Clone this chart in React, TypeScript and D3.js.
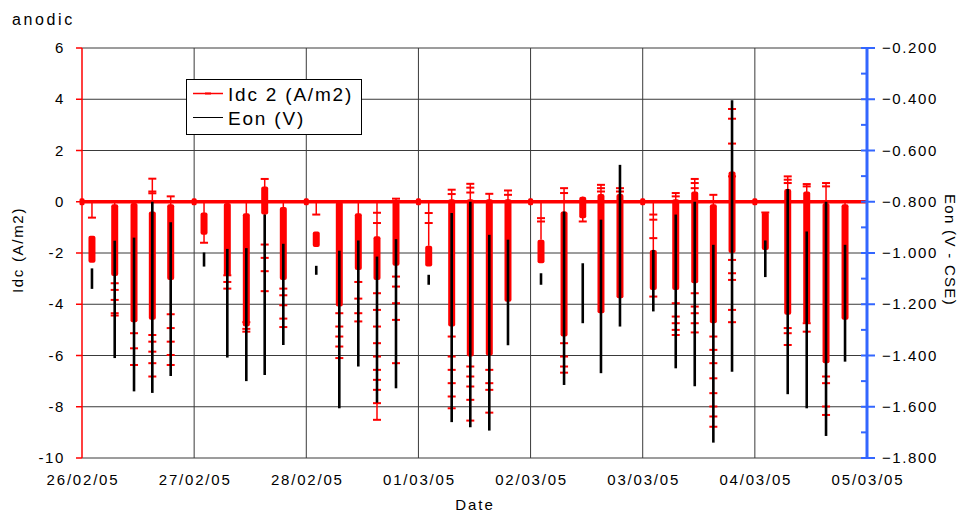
import React from "react";
import * as d3 from "d3";

const parseTime = d3.timeParse("%Y-%m-%d %H:%M");

// Day gridlines and their labels
const dayTicks = [
  "2005-02-26 00:00", "2005-02-27 00:00", "2005-02-28 00:00", "2005-03-01 00:00",
  "2005-03-02 00:00", "2005-03-03 00:00", "2005-03-04 00:00", "2005-03-05 00:00",
];
const dayLabels = ["26/02/05", "27/02/05", "28/02/05", "01/03/05", "02/03/05", "03/03/05", "04/03/05", "05/03/05"];

// Left axis (Idc, A/m2) and right axis (Eon, V - CSE)
const idcTicks = [6, 4, 2, 0, -2, -4, -6, -8, -10];
const eonTicks = [-0.2, -0.4, -0.6, -0.8, -1.0, -1.2, -1.4, -1.6, -1.8];
const eonMinorTicks = [-0.3, -0.5, -0.7, -0.9, -1.1, -1.3, -1.5, -1.7];

// Times when the current rests at zero between measurement runs
const restTimes = [
  "2005-02-26 00:00", "2005-02-27 00:00", "2005-02-28 00:00", "2005-03-01 00:00",
  "2005-03-02 00:00", "2005-03-03 00:00", "2005-03-04 00:00",
];

// Measurement runs: start time of each run
const runTimes = [
  "2005-02-26 02:08", "2005-02-26 07:00", "2005-02-26 11:08", "2005-02-26 15:03", "2005-02-26 18:59",
  "2005-02-27 02:07", "2005-02-27 07:06", "2005-02-27 11:10", "2005-02-27 15:06", "2005-02-27 19:05",
  "2005-02-28 02:08", "2005-02-28 07:04", "2005-02-28 11:08", "2005-02-28 15:08", "2005-02-28 19:12",
  "2005-03-01 02:12", "2005-03-01 07:07", "2005-03-01 11:06", "2005-03-01 15:10", "2005-03-01 19:10",
  "2005-03-02 02:14", "2005-03-02 07:10", "2005-03-02 11:10", "2005-03-02 15:04", "2005-03-02 19:08",
  "2005-03-03 02:16", "2005-03-03 07:04", "2005-03-03 11:08", "2005-03-03 15:07", "2005-03-03 19:07",
  "2005-03-04 02:14", "2005-03-04 07:02", "2005-03-04 11:06", "2005-03-04 15:14", "2005-03-04 19:18",
];

// Idc 2 (A/m2): full span of each run [max, min]
const idcSpan: [number, number][] = [
  [0, -0.62], [0, -4.44], [0, -6.37], [0.9, -6.82], [0.21, -6.37],
  [0, -1.6], [0, -3.39], [0, -5.07], [0.89, -3.49], [0, -4.89],
  [0, -0.5], [0, -6.1], [0, -4.67], [0, -8.51], [0.12, -6.3],
  [0, -1.72], [0.47, -8.06], [0.7, -8.54], [0.31, -8.23], [0.44, -3.9],
  [0, -1.48], [0.53, -6.67], [0.2, -0.77], [0.66, -4.35], [0.53, -3.77],
  [0, -3.7], [0.34, -5.2], [0.89, -5.1], [0.27, -8.78], [3.62, -4.7],
  [-0.42, -1.88], [0.99, -5.59], [0.69, -5.07], [0.73, -8.32], [0, -4.6],
];

// Idc 2 (A/m2): range where the readings crowd together [upper, lower]
const idcDense: [number, number][] = [
  [-1.33, -2.38], [-0.1, -2.9], [-0.05, -4.7], [-0.38, -4.6], [-0.1, -3.05],
  [-0.42, -1.29], [-0.05, -2.9], [-0.45, -4.87], [0.6, -0.5], [-0.2, -3.05],
  [-1.16, -1.77], [0, -4.09], [-0.45, -2.66], [-1.35, -3.05], [0, -2.5],
  [-1.72, -2.53], [0.1, -4.87], [0.1, -6.04], [0.1, -6.0], [0.1, -3.9],
  [-1.48, -2.4], [-0.38, -5.26], [0.2, -0.64], [0.3, -4.35], [0.3, -3.77],
  [-1.88, -3.44], [0.1, -3.44], [0.4, -3.18], [-0.1, -4.74], [1.18, -2.0],
  [-0.42, -1.88], [0.5, -4.41], [0.4, -4.74], [-0.05, -6.3], [-0.1, -4.6],
];

// Idc 2 (A/m2): isolated readings outside the crowded range
const idcSingles: number[][] = [
  [-0.62], [-3.18, -3.44, -3.83, -4.35, -4.44], [-5.13, -5.72, -6.37],
  [0.9, 0.4, 0.33, -5.2, -5.46, -5.85, -6.3, -6.82], [0.21, -4.39, -4.93, -5.46, -5.98, -6.37],
  [-1.6], [-2.87, -3.13, -3.39], [-4.7, -4.96, -5.07], [0.89, -1.67, -2.19, -2.71, -3.49],
  [-3.39, -3.65, -4.04, -4.56, -4.89],
  [-0.5], [-4.35, -4.87, -5.26, -5.65, -6.1], [-3.13, -3.78, -4.35, -4.67],
  [-0.43, -0.83, -3.57, -4.22, -4.87, -5.52, -6.04, -6.56, -6.95, -7.34, -7.86, -8.51],
  [0.12, -2.92, -3.31, -3.96, -4.61, -6.3],
  [-0.44, -0.83], [0.47, 0.3, -5.26, -6.04, -6.56, -7.08, -7.6, -8.06],
  [0.7, 0.55, 0.36, -6.43, -6.82, -7.21, -7.73, -8.54], [0.31, -6.56, -7.08, -7.34, -8.23], [0.44, 0.27],
  [-0.64, -0.77], [0.53, 0.34, -5.52, -6.04, -6.43, -6.67], [-0.77], [0.66, 0.53, 0.4], [0.53, 0.4],
  [-0.5, -0.7, -1.42, -3.7], [0.34, 0.21, -3.96, -4.48, -4.74, -5.0, -5.2],
  [0.89, 0.73, 0.53, -3.57, -4.09, -4.35, -4.74, -5.1],
  [0.27, -5.26, -5.78, -6.3, -6.89, -7.47, -7.99, -8.38, -8.78],
  [3.62, 3.24, 2.27, 0.99, -2.27, -2.79, -3.05, -4.22, -4.7],
  [-0.42], [0.99, 0.86, 0.73, -4.93, -5.13, -5.59], [0.69, 0.6, -4.74, -5.07],
  [0.73, 0.6, -6.82, -7.08, -7.99, -8.32], [],
];

// Eon (V - CSE): span of each run [max, min]
const eonSpan: [number, number][] = [
  [-1.06, -1.14], [-0.952, -1.41], [-0.94, -1.54], [-0.8, -1.546], [-0.88, -1.48],
  [-0.998, -1.053], [-0.984, -1.408], [-0.981, -1.5], [-0.85, -1.476], [-0.964, -1.359],
  [-1.05, -1.085], [-0.991, -1.606], [-0.951, -1.443], [-1.014, -1.584], [-0.946, -1.528],
  [-1.085, -1.124], [-0.844, -1.66], [-0.8, -1.68], [-0.929, -1.693], [-0.948, -1.36],
  [-1.079, -1.124], [-0.838, -1.515], [-1.04, -1.274], [-0.87, -1.469], [-0.656, -1.287],
  [-0.988, -1.228], [-0.85, -1.45], [-0.8, -1.52], [-0.968, -1.74], [-0.404, -1.463],
  [-0.951, -1.094], [-0.75, -1.551], [-0.916, -1.606], [-0.8, -1.714], [-0.968, -1.424],
];

const RED = "#ff0000";
const BLUE = "#3366ff";
const FONT = "'Liberation Sans', Arial, Helvetica, sans-serif";

export default function App() {
  const left = 82;
  const right = 867;
  const top = 48;
  const bottom = 458;

  const x = d3
    .scaleTime()
    .domain([parseTime(dayTicks[0]) as Date, parseTime(dayTicks[dayTicks.length - 1]) as Date])
    .range([left, right]);
  const y = d3.scaleLinear().domain([-10, 6]).range([bottom, top]);
  const yE = d3.scaleLinear().domain([-1.8, -0.2]).range([bottom, top]);

  const markW = 8;
  const bandW = 7;
  const runs = runTimes.map((t, i) => ({
    cx: x(parseTime(t) as Date),
    span: idcSpan[i],
    dense: idcDense[i],
    singles: idcSingles[i],
    eon: eonSpan[i],
  }));

  return (
    <svg
      width={966}
      height={513}
      style={{ position: "absolute", left: 0, top: 0, background: "#fff" }}
      fontFamily={FONT}
    >
      <rect x={0} y={0} width={966} height={513} fill="#fff" />

      {/* gridlines */}
      {idcTicks.map((v) => (
        <line key={"h" + v} x1={left} x2={right} y1={y(v)} y2={y(v)} stroke="#3a3a3a" strokeWidth={1} />
      ))}
      {dayTicks.slice(1, -1).map((d) => {
        const px = x(parseTime(d) as Date);
        return <line key={"v" + d} x1={px} x2={px} y1={top} y2={bottom} stroke="#3a3a3a" strokeWidth={1} />;
      })}

      {/* Idc 2 at rest: zero line */}
      <line x1={left} x2={right} y1={y(0)} y2={y(0)} stroke={RED} strokeWidth={3.5} />
      {restTimes.map((t) => {
        const px = x(parseTime(t) as Date);
        return <rect key={"r" + t} x={px - 2.5} y={y(0) - 3.5} width={5} height={7} rx={1.5} fill={RED} />;
      })}

      {/* Idc 2 runs */}
      {runs.map((r, i) => (
        <g key={"idc" + i}>
          <line x1={r.cx} x2={r.cx} y1={y(r.span[0])} y2={y(r.span[1])} stroke={RED} strokeWidth={1.5} />
          <rect
            x={r.cx - bandW / 2}
            y={y(r.dense[0])}
            width={bandW}
            height={y(r.dense[1]) - y(r.dense[0])}
            rx={2}
            fill={RED}
          />
          {r.singles.map((v, j) => (
            <rect key={j} x={r.cx - markW / 2} y={y(v) - 1} width={markW} height={2} fill={RED} />
          ))}
        </g>
      ))}

      {/* Eon runs */}
      {runs.map((r, i) => (
        <line
          key={"eon" + i}
          x1={r.cx}
          x2={r.cx}
          y1={yE(r.eon[0])}
          y2={yE(r.eon[1])}
          stroke="#000"
          strokeWidth={2.6}
        />
      ))}

      {/* left axis */}
      <line x1={left} x2={left} y1={top} y2={bottom} stroke={RED} strokeWidth={1.5} />
      {idcTicks.map((v) => (
        <g key={"lt" + v}>
          <line x1={left - 6} x2={left} y1={y(v)} y2={y(v)} stroke={RED} strokeWidth={1.5} />
          <text x={65} y={y(v) + 5} textAnchor="end" fontSize={15} letterSpacing={1.6} fill="#000">
            {v}
          </text>
        </g>
      ))}

      {/* right axis */}
      {eonMinorTicks.map((v) => (
        <line key={"rm" + v} x1={right - 6} x2={right} y1={yE(v)} y2={yE(v)} stroke={BLUE} strokeWidth={2} />
      ))}
      {eonTicks.map((v) => (
        <g key={"rt" + v}>
          <line x1={right - 6} x2={right + 8} y1={yE(v)} y2={yE(v)} stroke={BLUE} strokeWidth={2} />
          <text x={882} y={yE(v) + 5} fontSize={15} letterSpacing={1.6} fill="#000">
            {d3.format(".3f")(v)}
          </text>
        </g>
      ))}
      <line x1={right} x2={right} y1={top} y2={bottom} stroke={BLUE} strokeWidth={3} />

      {/* x axis labels */}
      {dayTicks.map((d, i) => (
        <text
          key={"xl" + d}
          x={x(parseTime(d) as Date) + 1}
          y={485}
          textAnchor="middle"
          fontSize={15}
          letterSpacing={1.8}
          fill="#000"
        >
          {dayLabels[i]}
        </text>
      ))}

      {/* titles */}
      <text x={12} y={25} fontSize={16} letterSpacing={2.6} fill="#000">
        anodic
      </text>
      <text
        transform={`translate(23,250) rotate(-90)`}
        textAnchor="middle"
        fontSize={15}
        letterSpacing={1.7}
        fill="#000"
      >
        Idc (A/m2)
      </text>
      <text
        transform={`translate(945,250) rotate(90)`}
        textAnchor="middle"
        fontSize={15}
        letterSpacing={1.3}
        fill="#000"
      >
        Eon (V - CSE)
      </text>
      <text x={475} y={510} textAnchor="middle" fontSize={15} letterSpacing={2} fill="#000">
        Date
      </text>

      {/* legend */}
      <rect x={186.5} y={79.5} width={175} height={55} fill="#fff" stroke="#000" strokeWidth={1} />
      <line x1={193} x2={223} y1={93.5} y2={93.5} stroke={RED} strokeWidth={1.5} />
      <rect x={205} y={92.5} width={6} height={2} fill={RED} />
      <text x={228} y={100.5} fontSize={19} letterSpacing={1.8} fill="#000">
        Idc 2 (A/m2)
      </text>
      <line x1={193} x2={223} y1={117.5} y2={117.5} stroke="#000" strokeWidth={1} />
      <text x={228} y={124.5} fontSize={19} letterSpacing={1.8} fill="#000">
        Eon (V)
      </text>
    </svg>
  );
}
